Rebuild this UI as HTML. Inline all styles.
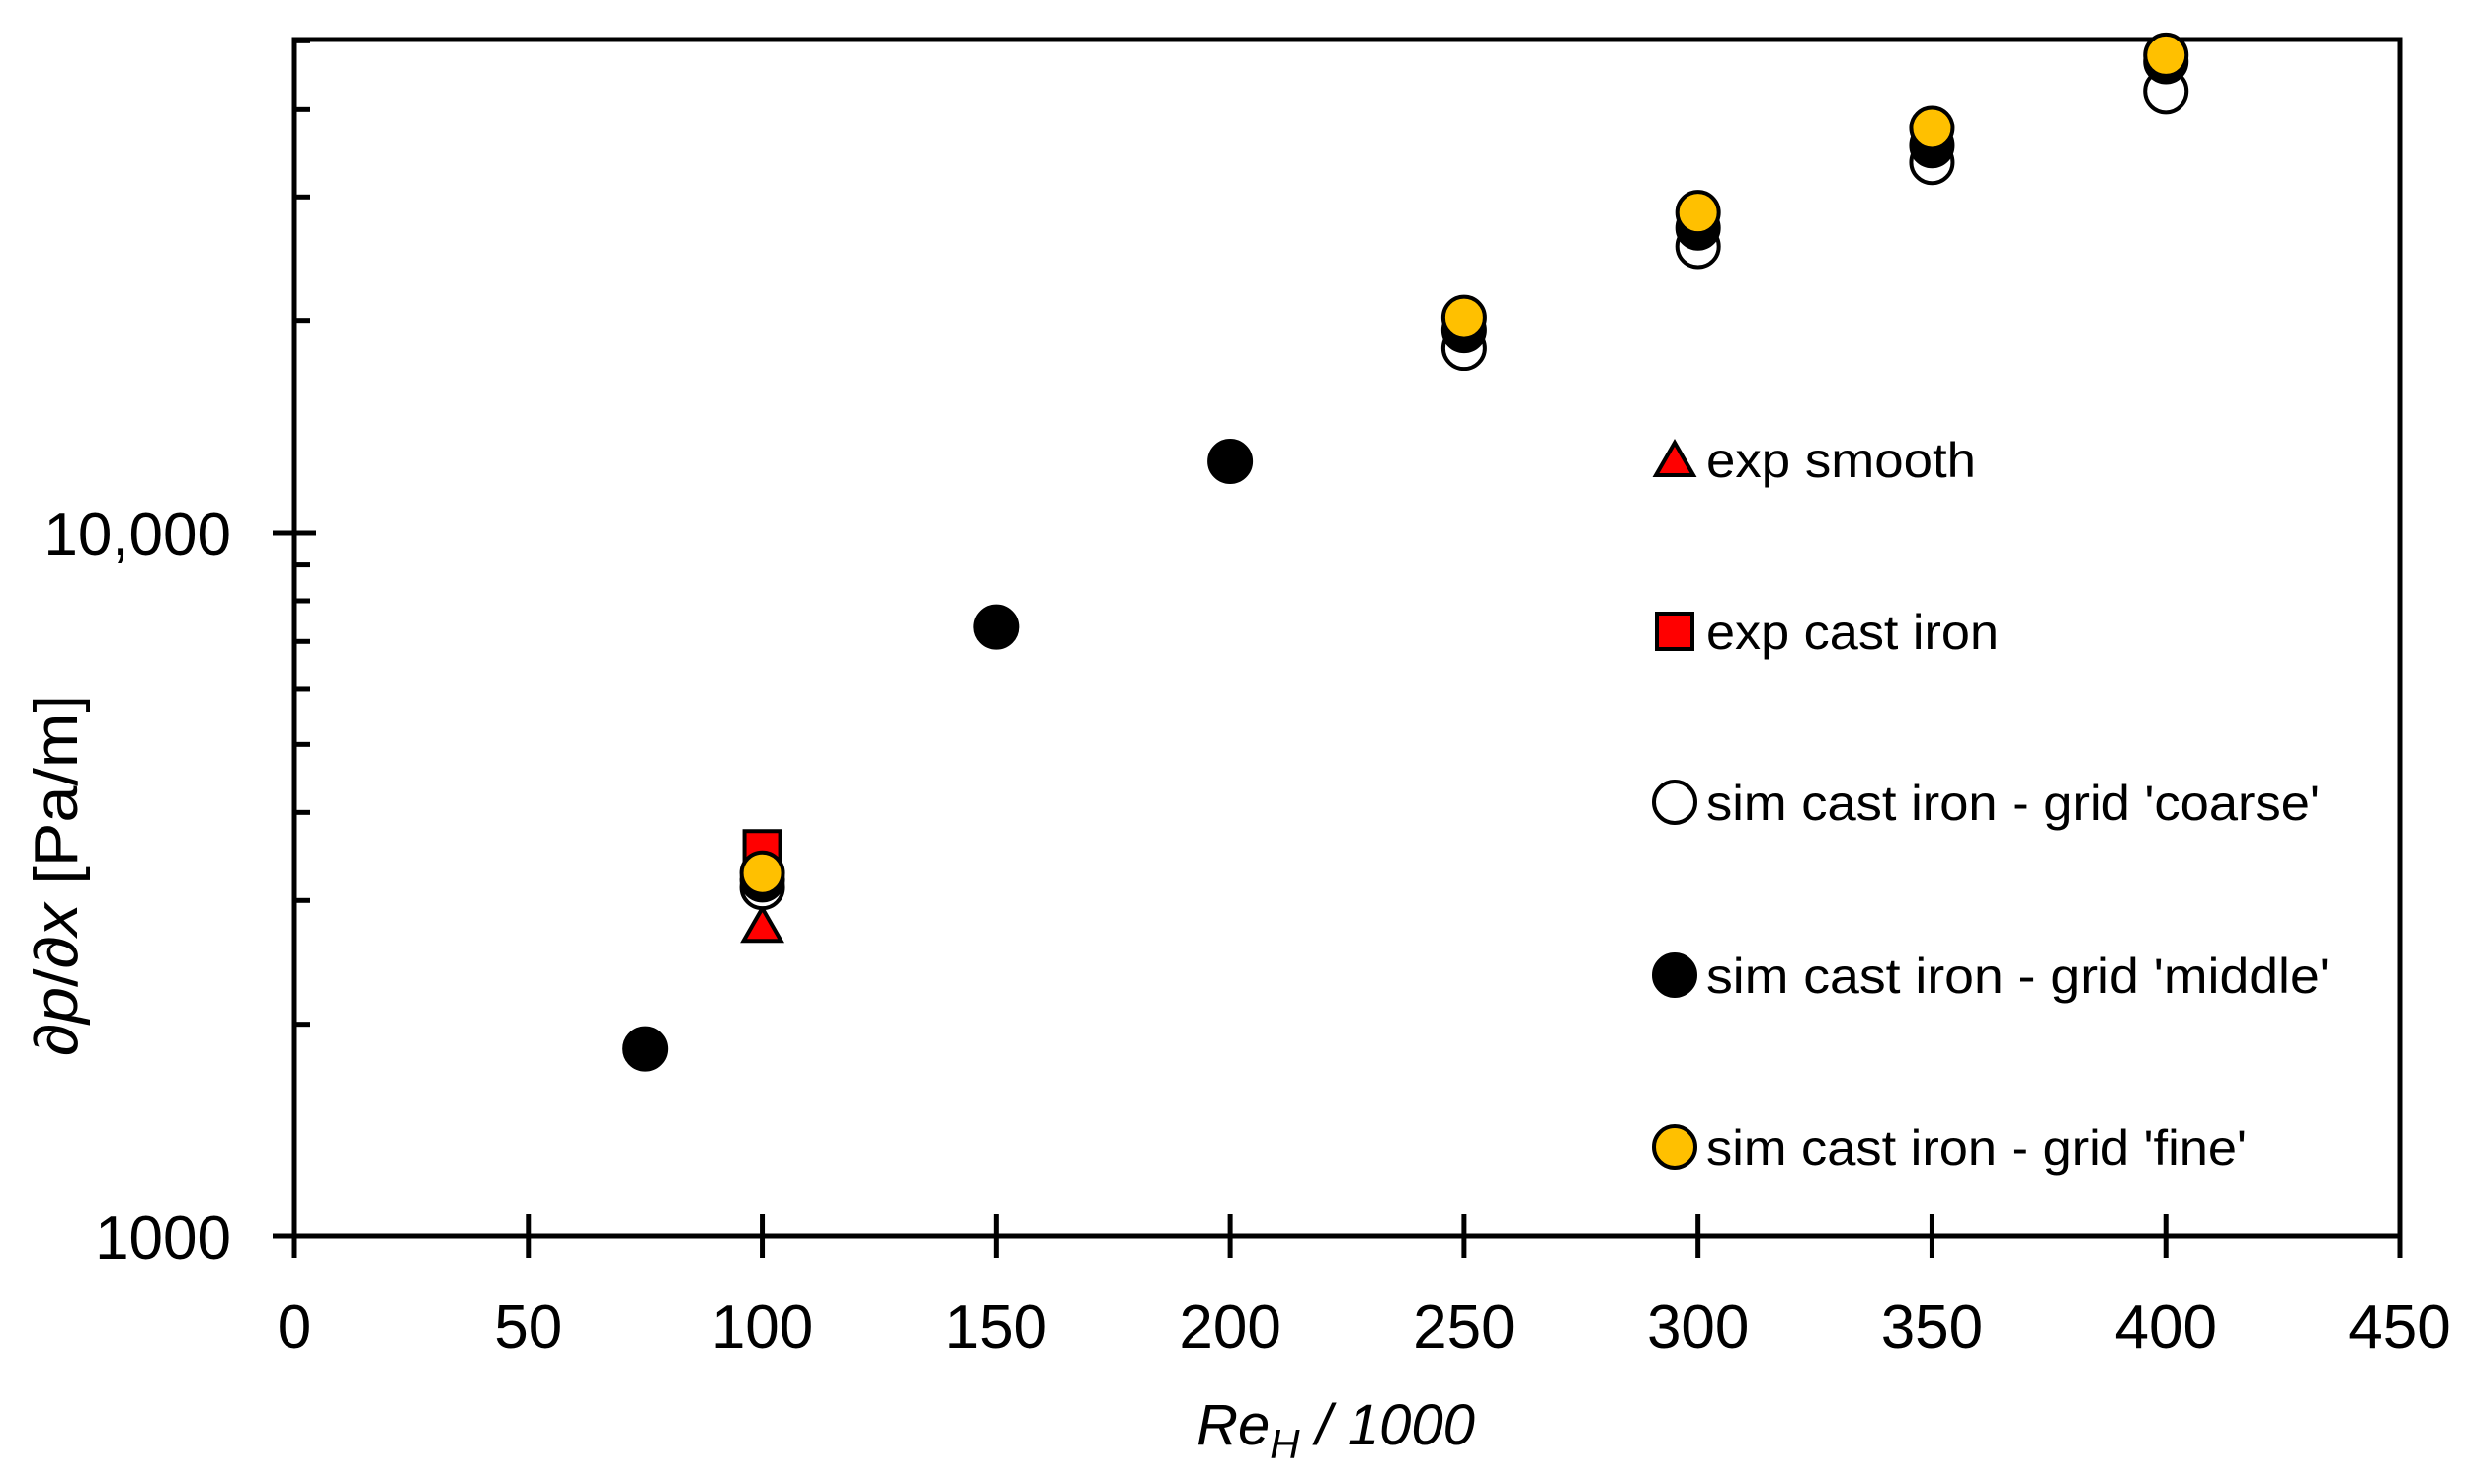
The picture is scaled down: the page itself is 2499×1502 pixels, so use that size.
<!DOCTYPE html>
<html><head><meta charset="utf-8"><style>
html,body{margin:0;padding:0;background:#fff;}
svg{display:block;font-family:"Liberation Sans",sans-serif;}
</style></head><body>
<svg id="chart" width="2499" height="1502" viewBox="0 0 2499 1502">
<g id="axes"></g><g id="marks"></g><g id="legend"></g>
<text x="78" y="886" font-size="62" text-anchor="middle" transform="rotate(-90 78 886)" textLength="366" lengthAdjust="spacingAndGlyphs"><tspan font-style="italic">∂p</tspan>/<tspan font-style="italic">∂x</tspan> [Pa/m]</text>
<text x="1352" y="1462" font-size="58" text-anchor="middle" font-style="italic">Re<tspan font-size="42" dy="14">H</tspan><tspan dy="-14"> / 1000</tspan></text>
</svg>
<script>
const xTicks=[0,50,100,150,200,250,300,350,400,450];
const yMajor=[1000,10000];
const yMajorLabels=["1000","10,000"];
const yMinor=[2000,3000,4000,5000,6000,7000,8000,9000,20000,30000,40000,50000];
const expSmoothX=[100];
const expSmoothY=[2750];
const expCastX=[100];
const expCastY=[3550];
const coarseX=[100,250,300,350,400];
const coarseY=[3130,18300,25500,33600,42400];
const middleX=[75,100,150,200,250,300,350,400];
const middleY=[1845,3210,7340,12620,19400,27100,35500,46700];
const fineX=[100,250,300,350,400];
const fineY=[3280,20200,28500,37600,47700];

const NS="http://www.w3.org/2000/svg";
const L=298,R=2429,T=40,B=1251;
const xs=v=>L+(v-0)/(450-0)*(R-L);
const ys=v=>B-(Math.log10(v)-3)*712;
function mk(tag,attrs,parent){const e=document.createElementNS(NS,tag);for(const k in attrs)e.setAttribute(k,attrs[k]);parent.appendChild(e);return e;}
const axes=document.getElementById('axes'),marks=document.getElementById('marks'),leg=document.getElementById('legend');
let f=mk('rect',{x:L,y:T,width:R-L,height:B-T,fill:'none',stroke:'#000','stroke-width':5},axes);


xTicks.forEach(v=>{
 const t=mk('line',{x1:xs(v),x2:xs(v),y1:B-22,y2:B+22,stroke:'#000','stroke-width':5},axes);
 
 
 const tx=mk('text',{x:xs(v),y:B+113,'font-size':62,'text-anchor':'middle'},axes);tx.textContent=v;
 
 
});
yMajor.forEach((v,i)=>{
 const t=mk('line',{x1:L-22,x2:L+22,y1:ys(v),y2:ys(v),stroke:'#000','stroke-width':5},axes);
 
 
 const tx=mk('text',{x:L-64,y:ys(v)+23,'font-size':62,'text-anchor':'end'},axes);tx.textContent=yMajorLabels[i];
 
 
});
yMinor.forEach(v=>{
 const t=mk('line',{x1:L,x2:L+16,y1:ys(v),y2:ys(v),stroke:'#000','stroke-width':5},axes);
 
 
});
function circ(g,cx,cy,fill,name){const c=mk('circle',{cx:cx,cy:cy,r:21,fill:fill,stroke:'#000','stroke-width':4},g);
 
 }
function tri(g,cx,cy,name){const p=mk('polygon',{points:`${cx},${cy-19} ${cx+19},${cy+14} ${cx-19},${cy+14}`,fill:'#f00',stroke:'#000','stroke-width':4},g);
 
 }
function sq(g,cx,cy,name){const p=mk('rect',{x:cx-18,y:cy-18,width:36,height:36,fill:'#f00',stroke:'#000','stroke-width':4},g);
 
 }
expSmoothX.forEach((x,i)=>tri(marks,xs(x),ys(expSmoothY[i]),'exp-smooth-point'));
expCastX.forEach((x,i)=>sq(marks,xs(x),ys(expCastY[i]),'exp-cast-iron-point'));
coarseX.forEach((x,i)=>circ(marks,xs(x),ys(coarseY[i]),'#fff','coarse-point'));
middleX.forEach((x,i)=>circ(marks,xs(x),ys(middleY[i]),'#000','middle-point'));
fineX.forEach((x,i)=>circ(marks,xs(x),ys(fineY[i]),'#ffc000','fine-point'));
const labels=["exp smooth","exp cast iron","sim cast iron - grid 'coarse'","sim cast iron - grid 'middle'","sim cast iron - grid 'fine'"];
const rowsY=[465,639,812,987,1161];
const widths=[273,296,621,631,547];
labels.forEach((s,i)=>{
 const g=mk('g',{},leg);
 
 
 const cx=1695,cy=rowsY[i];
 if(i===0)tri(g,cx,cy+2,'legend-marker');else if(i===1)sq(g,cx,cy,'legend-marker');
 else circ(g,cx,cy,['#fff','#000','#ffc000'][i-2],'legend-marker');
 const t=mk('text',{x:1727,y:cy+18,'font-size':50,textLength:widths[i],lengthAdjust:'spacingAndGlyphs'},g);t.textContent=s;
 
 
});
</script>
</body></html>
